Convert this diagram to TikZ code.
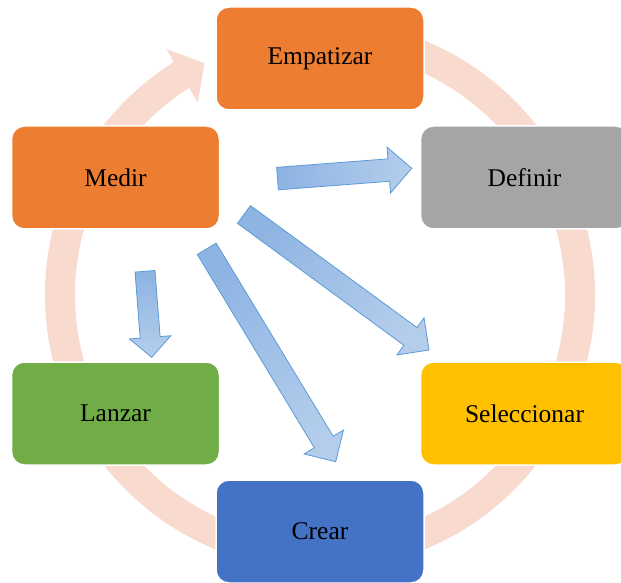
\documentclass[tikz,border=0pt]{standalone}
\usepackage{fontspec}
\setmainfont{Liberation Serif}
\usetikzlibrary{calc}
\definecolor{ringc}{HTML}{F8DACF}
\definecolor{orng}{HTML}{ED7D31}
\definecolor{gry}{HTML}{A5A5A5}
\definecolor{ylw}{HTML}{FFC000}
\definecolor{blu}{HTML}{4472C4}
\definecolor{grn}{HTML}{70AD47}
\definecolor{aline}{HTML}{5B9BD5}
\definecolor{adark}{HTML}{8EB4E3}
\definecolor{alight}{HTML}{B4CDEB}
\tikzset{
 stage/.style={rounded corners=13pt, draw=white, line width=1.5pt, minimum width=208pt, minimum height=103pt, inner sep=0pt, font=\fontsize{25.5}{30}\selectfont, text=black},
 barrow/.style={draw=aline, line width=0.8pt, top color=adark, bottom color=alight, shading angle=#1},
}
\newcommand{\blockarr}[6]{%
 \coordinate (#1h) at ($(#2)!#5!(#1)$);
 \draw[barrow=#6] ($(#1)!#3!90:(#2)$) -- ($(#1h)!#3!90:(#2)$) -- ($(#1h)!#4!90:(#2)$) -- (#2) -- ($(#1h)!#4!-90:(#2)$) -- ($(#1h)!#3!-90:(#2)$) -- ($(#1)!#3!-90:(#2)$) -- cycle;
}
\begin{document}
\begin{tikzpicture}[x=1pt,y=1pt]
\useasboundingbox (0,0) rectangle (621,582);
\fill[white] (0,0) rectangle (621,582);
\coordinate (c) at (320,287);
% ring with arrowhead
\draw[ringc, line width=30pt] ($(c)+(100:260pt)$) arc[start angle=100, end angle=-238.5, radius=260pt];
\fill[ringc] ($(c)+(122:290pt)$) -- ($(c)+(116.5:259pt)$) -- ($(c)+(122.4:228pt)$) -- cycle;
% stages
\node[stage, fill=orng] (emp) at (320,523.5) {Empatizar};
\node[stage, fill=gry] (def) at (524.5,404.5) {Definir};
\node[stage, fill=ylw] (sel) at (524.5,168.5) {Seleccionar};
\node[stage, fill=blu] (cre) at (320,50.5) {Crear};
\node[stage, fill=grn] (lan) at (115.5,168.5) {Lanzar};
\node[stage, fill=orng] (med) at (115.5,404.5) {Medir};
% block arrows
\coordinate (ta) at (277.5,403.4); \coordinate (pa) at (411.7,413.7);
\coordinate (tb) at (244,367.5);   \coordinate (pb) at (429,232);
\coordinate (tc) at (206.7,333.2); \coordinate (pc) at (335.7,120.3);
\coordinate (td) at (145,310.7);   \coordinate (pd) at (151.7,224.7);
\blockarr{ta}{pa}{11.25pt}{23pt}{23pt}{94.4}
\blockarr{tb}{pb}{11pt}{23pt}{23pt}{54}
\blockarr{tc}{pc}{11pt}{23pt}{23pt}{31.2}
\blockarr{td}{pd}{10pt}{20.7pt}{20pt}{4.5}
\end{tikzpicture}
\end{document}
